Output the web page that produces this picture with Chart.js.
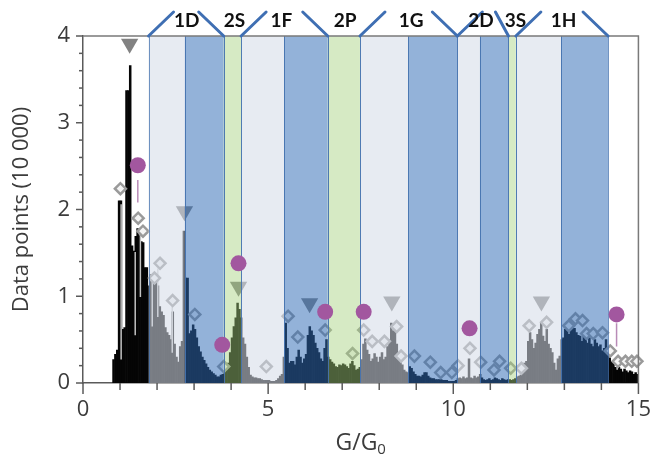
<!DOCTYPE html>
<html>
<head>
<meta charset="utf-8">
<script src="https://cdn.jsdelivr.net/npm/chart.js@4.4.0/dist/chart.umd.min.js"></script>
<style>
  html, body { margin: 0; padding: 0; background: #fff; }
</style>
</head>
<body>
<canvas id="histo" width="665" height="462"></canvas>
<script>
// histogram: bins of 0.05 G0 starting at 0.8, counts in units of 10 000
const binStart = 0.8
const binWidth = 0.05
const countsBelow1D = [0.27, 0.33, 0.38, 2.10, 2.10, 0.62, 0.64, 3.37, 3.37, 3.66, 1.58, 1.52, 1.69, 1.78, 1.70, 1.63, 1.62, 1.33, 1.33]
const counts1D = [1.12, 1.25, 1.23, 1.20, 1.18, 1.12, 0.88, 0.82, 0.78, 0.64, 0.58, 0.55, 0.50, 0.82, 0.45, 0.30, 0.24, 0.42, 0.48, 1.75,
  1.21, 1.21, 0.57, 0.60, 0.67, 0.62, 0.52, 0.42, 0.36, 0.30, 0.26, 0.22, 0.18, 0.15, 0.13, 0.11, 0.09, 0.07, 0.07, 0.09, 0.10]
const counts2S = [0.12, 0.15, 0.23, 0.35, 0.52, 0.65, 0.75, 0.92, 0.85]
const counts1F = [0.75, 0.52, 0.45, 0.30, 0.18, 0.09, 0.07, 0.06, 0.06, 0.05, 0.05, 0.04, 0.03, 0.03, 0.03, 0.03, 0.02, 0.02, 0.02, 0.03, 0.05, 0.08, 0.10,
  0.30, 0.69, 0.40, 0.23, 0.25, 0.25, 0.21, 0.30, 0.38, 0.30, 0.23, 0.28, 0.33, 0.55, 0.65, 0.60, 0.55, 0.46, 0.40, 0.35, 0.28, 0.25, 0.40, 0.50]
const counts2P = [0.30, 0.27, 0.24, 0.22, 0.19, 0.18, 0.21, 0.20, 0.22, 0.21, 0.19, 0.17, 0.22, 0.25, 0.20, 0.15, 0.16, 0.18]
const counts1G = [0.27, 0.45, 0.51, 0.38, 0.33, 0.25, 0.28, 0.34, 0.30, 0.24, 0.30, 0.35, 0.27, 0.30, 0.42, 0.50, 0.69, 0.60, 0.65, 0.45, 0.35, 0.25, 0.21, 0.15, 0.13, 0.12,
  0.19, 0.17, 0.13, 0.10, 0.08, 0.08, 0.07, 0.09, 0.12, 0.12, 0.08, 0.06, 0.05, 0.05, 0.04, 0.04, 0.04, 0.04, 0.03, 0.03, 0.03, 0.02, 0.02, 0.02, 0.02, 0.03]
const counts2D = [0.05, 0.06, 0.05, 0.07, 0.05, 0.06, 0.28, 0.06, 0.05, 0.08, 0.06, 0.07,
  0.10, 0.06, 0.04, 0.03, 0.04, 0.05, 0.03, 0.04, 0.06, 0.05, 0.04, 0.03, 0.05, 0.04, 0.03, 0.04]
const counts3S = [0.04, 0.03, 0.04, 0.05]
const counts1H = [0.07, 0.08, 0.09, 0.12, 0.23, 0.25, 0.48, 0.58, 0.50, 0.40, 0.46, 0.56, 0.62, 0.69, 0.54, 0.48, 0.62, 0.45, 0.40, 0.35, 0.23, 0.15, 0.28, 0.31,
  0.50, 0.52, 0.62, 0.60, 0.56, 0.66, 0.64, 0.63, 0.58, 0.55, 0.54, 0.48, 0.54, 0.50, 0.46, 0.52, 0.45, 0.42, 0.50, 0.46, 0.42, 0.44, 0.37, 0.40, 0.50, 0.35]
const countsAbove1H = [0.29, 0.25, 0.23, 0.18, 0.15, 0.18, 0.16, 0.13, 0.16, 0.14, 0.12, 0.14, 0.13, 0.10, 0.12, 0.10]

// shaded shell regions
const bandFrom = [1.77, 2.75, 3.80, 4.27, 5.43, 6.61, 7.48, 8.79, 10.11, 10.72, 11.49, 11.69, 12.91]
const bandTo   = [2.75, 3.80, 4.27, 5.43, 6.61, 7.48, 8.79, 10.11, 10.72, 11.49, 11.69, 12.91, 14.18]
const bandKind = ['light', 'blue', 'green', 'light', 'blue', 'green', 'light', 'blue', 'light', 'blue', 'green', 'light', 'blue']

const shellNames = ['1D', '2S', '1F', '2P', '1G', '2D', '3S', '1H']
const shellTextX = [2.80, 4.09, 5.36, 7.08, 8.86, 10.75, 11.68, 12.98]
const bracketFrom = [1.77, 4.27, 7.48, 10.11, 11.69]
const bracketTo   = [3.80, 6.61, 10.11, 11.49, 14.18]

// markers
const peakX = [1.26, 2.74, 4.20, 6.12, 8.34, 12.38]
const peakY = [3.91, 1.98, 1.11, 0.92, 0.94, 0.94]
const predX = [1.48, 3.76, 4.20, 6.54, 7.58, 10.44, 14.41]
const predY = [2.51, 0.44, 1.38, 0.82, 0.82, 0.63, 0.79]
const predStemX = [1.48, 14.41]
const predStemTop = [2.34, 0.69]
const predStemBottom = [2.08, 0.42]
const fitX = [1.01, 1.49, 1.62, 1.93, 2.08, 2.42, 3.02, 3.80, 4.95, 5.54, 5.80, 6.54, 7.28, 7.58, 7.81, 8.14, 8.47, 8.59, 8.95, 9.38, 9.66, 9.96,
  10.13, 10.45, 10.74, 11.10, 11.25, 11.55, 11.84, 12.05, 12.52, 13.12, 13.30, 13.49, 13.60, 13.78, 14.03, 14.24, 14.45, 14.65, 14.82, 14.96]
const fitY = [2.24, 1.90, 1.75, 1.21, 1.38, 0.95, 0.79, 0.19, 0.19, 0.77, 0.53, 0.61, 0.34, 0.61, 0.48, 0.48, 0.65, 0.31, 0.31, 0.24, 0.12, 0.12,
  0.20, 0.40, 0.24, 0.15, 0.25, 0.17, 0.17, 0.66, 0.70, 0.66, 0.74, 0.72, 0.57, 0.57, 0.58, 0.37, 0.25, 0.25, 0.25, 0.25]
const fitStemX = [1.03, 1.41, 1.55, 1.87, 2.02, 2.41]
const fitStemTop = [2.06, 1.51, 1.71, 1.20, 1.32, 0.88]
const fitStemBottom = [0.27, 0.55, 0.99, 0.65, 0.76, 0.35]

const counts = [].concat(countsBelow1D, counts1D, counts2S, counts1F, counts2P, counts1G, counts2D, counts3S, counts1H, countsAbove1H)
const histData = counts.map((v, i) => ({ x: binStart + binWidth * (i + 0.5), y: v }))
const toPoints = (xa, ya) => xa.map((x, i) => ({ x: x, y: ya[i] }))
function stems(xa, top, bottom) {
    let out = []
    xa.forEach((x, i) => { out.push({ x: x, y: top[i] }, { x: x, y: bottom[i] }, { x: x, y: null }) })
    return out
}

const bandColor = {
    light: 'rgba(212,220,232,0.56)',
    blue: 'rgba(48,108,182,0.52)',
    green: 'rgba(165,208,125,0.45)'
}
const TEXT = '#3c3c3c'
const AXIS = '#5a5a5a'

// shaded regions go over the bars, diamonds and triangles, under the circles
const bandPlugin = {
    id: 'bands',
    afterDatasetDraw(chart, args) {
        if (args.index !== 2) return
        const { ctx, chartArea } = chart
        const x = chart.scales.x
        ctx.save()
        bandFrom.forEach((f, i) => {
            const l = x.getPixelForValue(f), r = x.getPixelForValue(bandTo[i])
            ctx.fillStyle = bandColor[bandKind[i]]
            ctx.fillRect(l, chartArea.top, r - l, chartArea.bottom - chartArea.top)
        })
        ctx.strokeStyle = 'rgba(70,115,175,0.75)'
        ctx.lineWidth = 1
        bandFrom.forEach((f, i) => {
            [f, bandTo[i]].forEach(v => {
                const p = Math.round(x.getPixelForValue(v)) + 0.5
                ctx.beginPath()
                ctx.moveTo(p, chartArea.top)
                ctx.lineTo(p, chartArea.bottom)
                ctx.stroke()
            })
        })
        ctx.restore()
    }
}

const decoPlugin = {
    id: 'deco',
    afterDraw(chart) {
        const { ctx, chartArea } = chart
        const x = chart.scales.x, y = chart.scales.y
        ctx.save()
        // frame top and right
        ctx.strokeStyle = '#7a7a7a'
        ctx.lineWidth = 1.5
        ctx.beginPath()
        ctx.moveTo(chartArea.left, chartArea.top)
        ctx.lineTo(chartArea.right, chartArea.top)
        ctx.lineTo(chartArea.right, chartArea.bottom)
        ctx.stroke()

        // tick marks
        ctx.strokeStyle = AXIS
        ctx.lineWidth = 1.5
        for (let i = 0; i <= 15; i++) {
            const p = x.getPixelForValue(i)
            ctx.beginPath()
            ctx.moveTo(p, chartArea.bottom)
            ctx.lineTo(p, chartArea.bottom + (i % 5 === 0 ? 11 : 7))
            ctx.stroke()
        }
        for (let i = 0; i <= 20; i++) {
            const p = y.getPixelForValue(i / 5)
            ctx.beginPath()
            ctx.moveTo(chartArea.left, p)
            ctx.lineTo(chartArea.left - (i % 5 === 0 ? 7 : 4), p)
            ctx.stroke()
        }

        // shell brackets and names
        ctx.strokeStyle = '#3f6fb3'
        ctx.lineWidth = 3
        ctx.lineCap = 'round'
        bracketFrom.forEach((f, i) => {
            const l = x.getPixelForValue(f), r = x.getPixelForValue(bracketTo[i])
            const slantR = bracketTo[i] === 11.49 ? 13 : 25
            ctx.beginPath()
            ctx.moveTo(l, chartArea.top)
            ctx.lineTo(l + 25, chartArea.top - 24)
            ctx.moveTo(r - slantR, chartArea.top - 24)
            ctx.lineTo(r, chartArea.top)
            ctx.stroke()
        })
        ctx.fillStyle = '#111'
        ctx.font = 'bold 19px Lato'
        ctx.textAlign = 'center'
        ctx.textBaseline = 'middle'
        shellNames.forEach((n, i) => ctx.fillText(n, x.getPixelForValue(shellTextX[i]), 21))

        // axis titles
        ctx.fillStyle = TEXT
        ctx.font = '22px "Open Sans"'
        ctx.save()
        ctx.translate(22, (chartArea.top + chartArea.bottom) / 2)
        ctx.rotate(-Math.PI / 2)
        ctx.fillText('Data points (10 000)', 0, 0)
        ctx.restore()
        const cx = (chartArea.left + chartArea.right) / 2
        const main = 'G/G'
        ctx.font = '23px "Open Sans"'
        const wMain = ctx.measureText(main).width
        ctx.font = '15px "Open Sans"'
        const wSub = ctx.measureText('0').width
        const start = cx - (wMain + wSub) / 2
        ctx.textAlign = 'left'
        ctx.font = '23px "Open Sans"'
        ctx.fillText(main, start, 443)
        ctx.font = '15px "Open Sans"'
        ctx.fillText('0', start + wMain, 450)
        ctx.restore()
    }
}

const ctx = document.getElementById('histo').getContext('2d')
const histChart = new Chart(ctx, {
    type: 'bar',
    data: {
        datasets: [
            {
                type: 'line', label: 'predicted', data: toPoints(predX, predY), order: 0,
                showLine: false, pointStyle: 'circle', pointRadius: 8, pointBorderWidth: 0,
                pointBackgroundColor: '#a2579f', clip: false
            },
            {
                type: 'line', label: 'predicted stems', data: stems(predStemX, predStemTop, predStemBottom), order: 0,
                borderColor: '#b98bb7', borderWidth: 1.5, pointRadius: 0, spanGaps: false
            },
            {
                type: 'line', label: 'peaks', data: toPoints(peakX, peakY), order: 1,
                showLine: false, pointStyle: 'triangle', rotation: 180, pointRadius: 10, pointBorderWidth: 0,
                pointBackgroundColor: '#828282', clip: false
            },
            {
                type: 'line', label: 'fit', data: toPoints(fitX, fitY), order: 2,
                showLine: false, pointStyle: 'rectRot', pointRadius: 5.5, pointBorderWidth: 2.5,
                pointBorderColor: '#9a9a9a', pointBackgroundColor: '#f4f4f4', clip: false
            },
            {
                type: 'line', label: 'fit stems', data: stems(fitStemX, fitStemTop, fitStemBottom), order: 3,
                borderColor: 'rgba(205,205,205,0.95)', borderWidth: 1.5, pointRadius: 0, spanGaps: false
            },
            {
                type: 'bar', label: 'counts', data: histData, order: 4,
                backgroundColor: '#050505', borderWidth: 0,
                barPercentage: 1, categoryPercentage: 1, grouped: false
            }
        ]
    },
    options: {
        responsive: false,
        animation: false,
        events: [],
        layout: { padding: { top: 36, right: 23, left: 0, bottom: 0 } },
        plugins: { legend: { display: false }, tooltip: { enabled: false } },
        scales: {
            x: {
                type: 'linear', min: 0, max: 15, offset: false,
                grid: { display: false, drawTicks: false },
                border: { display: true, color: AXIS, width: 1.5 },
                ticks: {
                    stepSize: 1, autoSkip: false, maxRotation: 0, padding: 14,
                    color: TEXT, font: { family: 'Open Sans', size: 22 },
                    callback: v => (v % 5 === 0 ? String(v) : '')
                },
                afterFit: s => { s.height = 79 }
            },
            y: {
                min: 0, max: 4,
                grid: { display: false, drawTicks: false },
                border: { display: true, color: AXIS, width: 1.5 },
                ticks: {
                    stepSize: 1, padding: 13,
                    color: TEXT, font: { family: 'Open Sans', size: 22 }
                },
                afterFit: s => { s.width = 83 }
            }
        }
    },
    plugins: [bandPlugin, decoPlugin]
})
</script>
</body>
</html>
